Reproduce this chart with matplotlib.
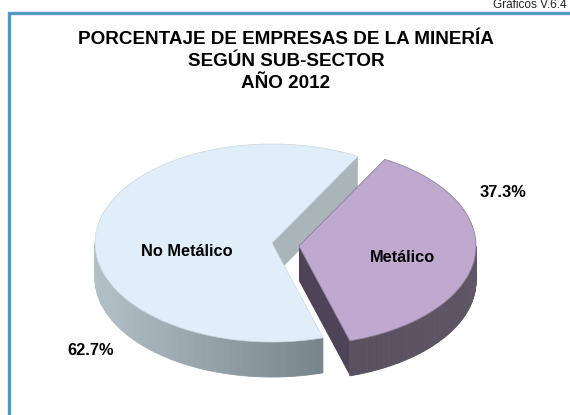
import numpy as np
import matplotlib
matplotlib.use('Agg')
import matplotlib.pyplot as plt
from matplotlib.colors import to_rgb

plt.rcParams['font.family'] = ['Liberation Sans', 'DejaVu Sans']

categories = ['No Metálico', 'Metálico']
values = [62.7, 37.3]
value_labels = ['62.7%', '37.3%']
title_lines = ['PORCENTAJE DE EMPRESAS DE LA MINERÍA', 'SEGÚN SUB-SECTOR', 'AÑO 2012']

# pie geometry in pixels
A, B = 177, 99
DEPTH = 35
START = 61  # where No Metálico starts, degrees on the ellipse


def rim(cx, cy, a0, a1, n=120):
    t = np.radians(np.linspace(a0, a1, n))
    return cx + A * np.cos(t), cy - B * np.sin(t)


def blend(c1, c2, f):
    return tuple(np.array(to_rgb(c1)) * (1 - f) + np.array(to_rgb(c2)) * f)


def draw_rim(cx, cy, a0, a1, c_left, c_right):
    # the visible outer wall, a strip of small shaded quads
    lo, hi = max(a0, 180), min(a1, 360)
    xs, ys = rim(cx, cy, lo, hi)
    for i in range(len(xs) - 1):
        f = (xs[i] - xs.min()) / (xs.max() - xs.min())
        ax.fill([xs[i], xs[i + 1], xs[i + 1], xs[i]],
                [ys[i], ys[i + 1], ys[i + 1] + DEPTH, ys[i] + DEPTH],
                color=blend(c_left, c_right, f), lw=0.6, zorder=2)


fig = plt.figure(figsize=(5.7, 4.15), dpi=100)
ax = fig.add_axes([0, 0, 1, 1])
ax.set_xlim(0, 570)
ax.set_ylim(415, 0)
ax.axis('off')

# frame
ax.plot([570, 9, 9], [13.5, 13.5, 415], color='#5299C4', lw=2.4, solid_joinstyle='miter', zorder=1)
ax.text(567, 5.5, 'Gráficos V.6.4', ha='right', va='center', fontsize=8.5, color='#222222')

for i, line in enumerate(title_lines):
    ax.text(286, 44 + i * 22, line, ha='center', va='baseline', fontsize=13.6, fontweight='bold')

# angles from the values
sweep = [v / sum(values) * 360 for v in values]
end_no = START + sweep[0]

# No Metálico
cx, cy = 272, 243
xu, yu = rim(cx, cy, START, START, 1)
ax.fill([cx, xu[0], xu[0], cx], [cy, yu[0], yu[0] + DEPTH, cy + DEPTH],
        color='#A9B5B9', lw=0, zorder=2)
draw_rim(cx, cy, START, end_no, '#B4C0C8', '#78848C')
xs, ys = rim(cx, cy, START, end_no, 240)
ax.fill(np.r_[cx, xs], np.r_[cy, ys], color='#DFEEF9', ec='#C9D6E0', lw=0.5, zorder=3)

# Metálico, pulled out to the right
cx, cy = 299, 246
a0, a1 = end_no, START + 360
xl, yl = rim(cx, cy, a0, a0, 1)
ax.fill([cx, xl[0], xl[0], cx], [cy, yl[0], yl[0] + DEPTH, cy + DEPTH],
        color='#4F4457', lw=0, zorder=2)
draw_rim(cx, cy, a0, a1, '#594F5F', '#5F5565')
xs, ys = rim(cx, cy, a0, a1, 160)
ax.fill(np.r_[cx, xs], np.r_[cy, ys], color='#BFA9CF', ec='#8F7F9C', lw=0.6, zorder=3)

# labels
ax.text(187, 256, categories[0], ha='center', va='baseline', fontsize=11.8, fontweight='bold', zorder=4)
ax.text(402.5, 262, categories[1], ha='center', va='baseline', fontsize=11.8, fontweight='bold', zorder=4)
ax.text(91, 355, value_labels[0], ha='center', va='baseline', fontsize=11.8, fontweight='bold', zorder=4)
ax.text(502.5, 197, value_labels[1], ha='center', va='baseline', fontsize=11.8, fontweight='bold', zorder=4)

fig.savefig('out.png', dpi=100, facecolor='white')
